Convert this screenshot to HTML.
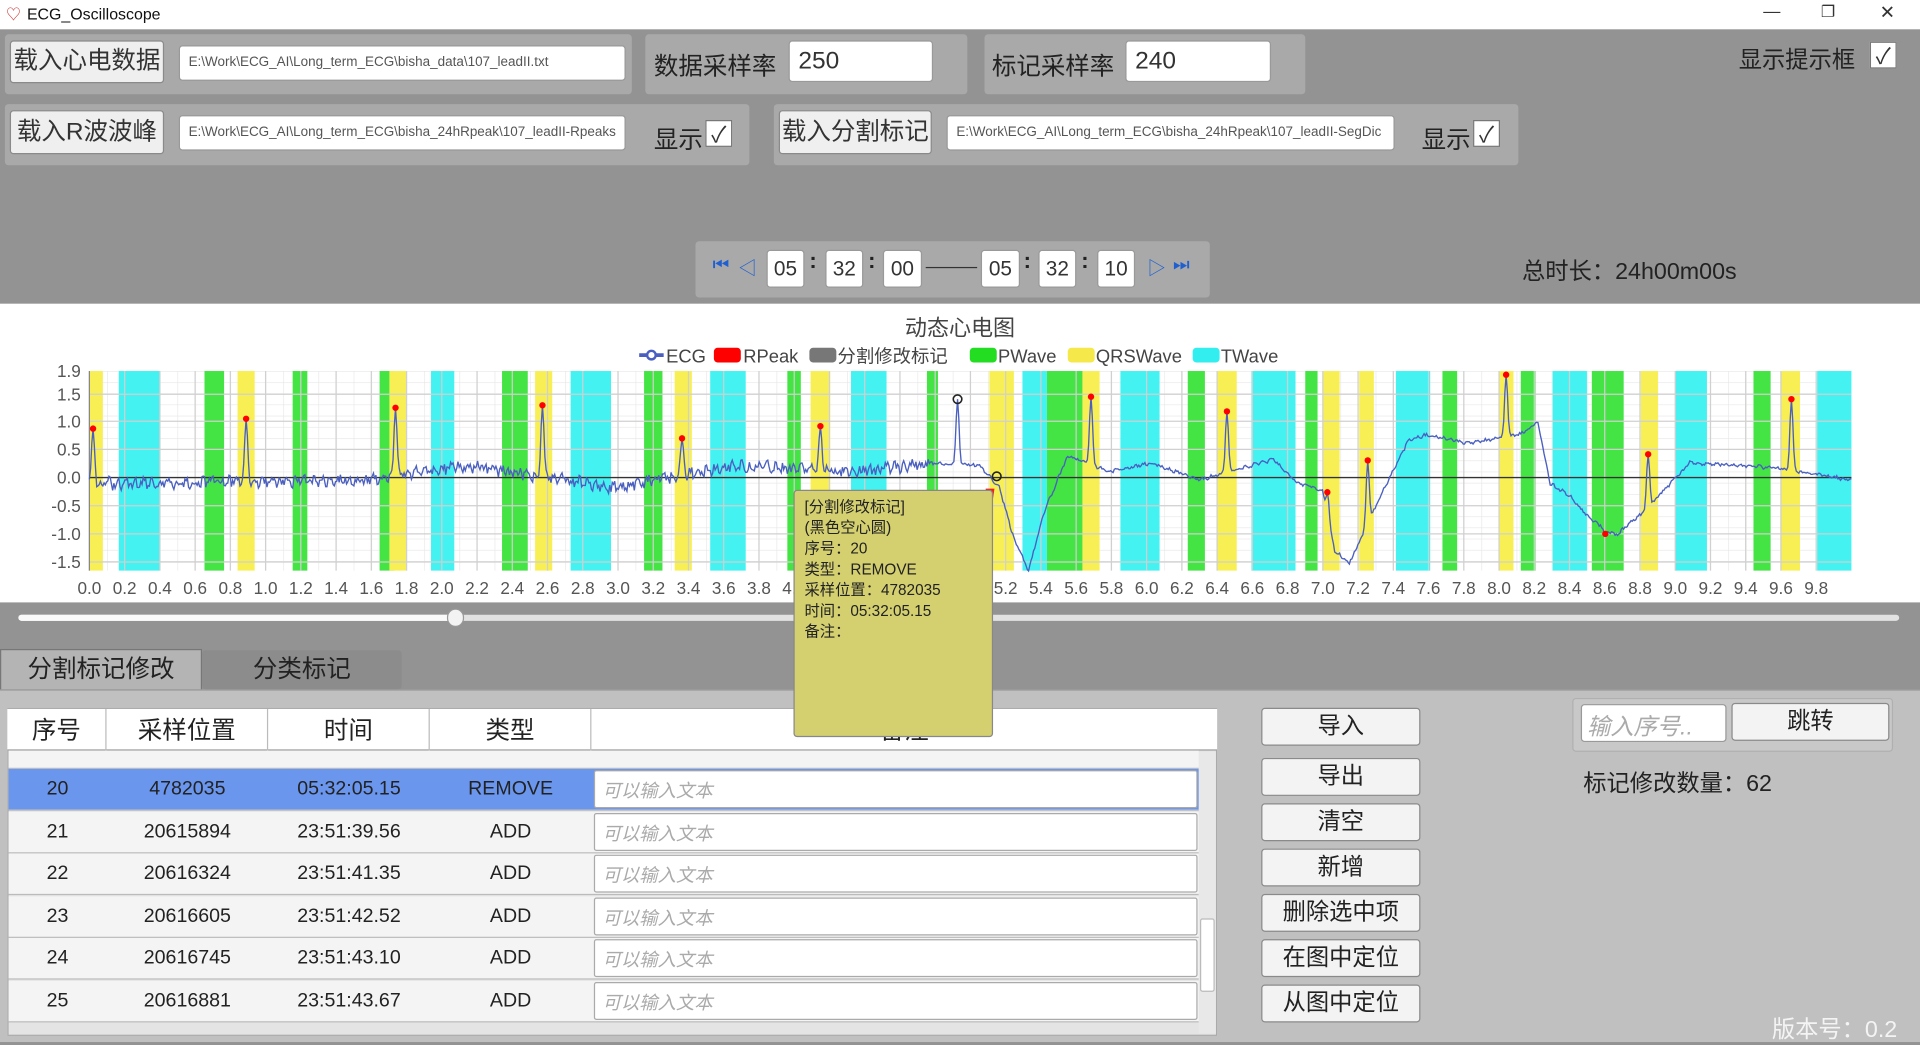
<!DOCTYPE html>
<html><head><meta charset="utf-8">
<style>
html,body{margin:0;padding:0;width:1920px;height:1042px;overflow:hidden;background:#939393;}
#root{position:absolute;left:0;top:0;width:1568px;height:851px;transform:scale(1.22449);transform-origin:0 0;font-family:"Liberation Sans","Noto Sans CJK SC",sans-serif;color:#222;background:#939393;}
.a{position:absolute;box-sizing:border-box;}
.panel{background:#a9a9a9;border-radius:3px;}
.btn{background:#efefef;border:1px solid #8a8a8a;border-radius:3px;text-align:center;font-size:20px;color:#333;}
.inp{background:#fff;border:1px solid #999;border-radius:3px;font-size:11px;color:#555;padding-left:7px;white-space:nowrap;overflow:hidden;}
.lbl{font-size:20px;color:#222;white-space:nowrap;}
.chk{background:#fff;border:1px solid #777;width:22px;height:22px;font-size:18px;text-align:center;line-height:22px;color:#333;}
.tb{background:#fff;border:1px solid #999;border-radius:3px;font-size:17px;text-align:center;color:#333;}
.row{position:absolute;left:7px;width:972px;height:33px;background:#f4f4f4;border-bottom:1px solid #bbb;font-size:16px;color:#222;}
.row span{position:absolute;top:8px;text-align:center;}
.row .n{left:0;width:80px}.row .p{left:80px;width:132px}.row .t{left:212px;width:132px}.row .k{left:344px;width:132px}
.row .r{position:absolute;left:478px;top:1px;width:493px;height:31px;background:#fff;border:1px solid #aaa;border-radius:2px;box-sizing:border-box;font-size:15px;color:#aaa;font-style:italic;padding:5px 6px;}
.rb{background:#f3f3f3;border:1px solid #8a8a8a;border-radius:3px;text-align:center;font-size:19px;line-height:29px;color:#222;width:130px;height:31px;left:1030px;}
</style></head><body><div id="root">
<!-- title bar -->
<div class="a" style="left:0;top:0;width:1568px;height:24px;background:#fff;"></div>
<div class="a" style="left:5px;top:3px;font-size:12px;color:#c33;">♡</div>
<div class="a" style="left:22px;top:4px;font-size:13px;color:#111;">ECG_Oscilloscope</div>
<div class="a" style="left:1440px;top:1px;font-size:14px;color:#333;">—</div>
<div class="a" style="left:1487px;top:2px;font-size:13px;color:#333;">❐</div>
<div class="a" style="left:1535px;top:1px;font-size:15px;color:#333;">✕</div>
<!-- top gray -->
<div class="a" style="left:0;top:24px;width:1568px;height:224px;background:#939393;"></div>
<div class="a panel" style="left:4px;top:28px;width:512px;height:49px;"></div>
<div class="a btn" style="left:8px;top:33px;width:126px;height:35px;line-height:33px;">载入心电数据</div>
<div class="a inp" style="left:146px;top:37px;width:365px;height:29px;line-height:27px;">E:\Work\ECG_AI\Long_term_ECG\bisha_data\107_leadII.txt</div>
<div class="a panel" style="left:527px;top:28px;width:263px;height:49px;"></div>
<div class="a lbl" style="left:534px;top:38px;">数据采样率</div>
<div class="a inp" style="left:644px;top:33px;width:118px;height:34px;font-size:20px;line-height:32px;color:#333;">250</div>
<div class="a panel" style="left:804px;top:28px;width:262px;height:49px;"></div>
<div class="a lbl" style="left:810px;top:38px;">标记采样率</div>
<div class="a inp" style="left:919px;top:33px;width:119px;height:34px;font-size:20px;line-height:32px;color:#333;">240</div>
<div class="a lbl" style="left:1420px;top:34px;font-size:19px;">显示提示框</div>
<div class="a chk" style="left:1527px;top:34px;">✓</div>

<div class="a panel" style="left:4px;top:85px;width:608px;height:50px;"></div>
<div class="a btn" style="left:8px;top:90px;width:126px;height:36px;line-height:34px;">载入R波波峰</div>
<div class="a inp" style="left:146px;top:94px;width:365px;height:29px;line-height:27px;">E:\Work\ECG_AI\Long_term_ECG\bisha_24hRpeak\107_leadII-Rpeaks</div>
<div class="a lbl" style="left:534px;top:98px;">显示</div>
<div class="a chk" style="left:576px;top:98px;">✓</div>
<div class="a panel" style="left:632px;top:85px;width:608px;height:50px;"></div>
<div class="a btn" style="left:636px;top:90px;width:125px;height:36px;line-height:34px;">载入分割标记</div>
<div class="a inp" style="left:773px;top:94px;width:366px;height:29px;line-height:27px;">E:\Work\ECG_AI\Long_term_ECG\bisha_24hRpeak\107_leadII-SegDic</div>
<div class="a lbl" style="left:1161px;top:98px;">显示</div>
<div class="a chk" style="left:1203px;top:98px;">✓</div>

<div class="a panel" style="left:568px;top:197px;width:420px;height:46px;"></div>
<div class="a" style="left:582px;top:208px;font-size:15px;color:#1f5fd0;">⏮</div>
<div class="a" style="left:603px;top:208px;font-size:15px;color:#1f5fd0;">◁</div>
<div class="a tb" style="left:626px;top:204px;width:31px;height:31px;line-height:30px;">05</div>
<div class="a" style="left:661px;top:203px;font-size:18px;font-weight:bold;">:</div>
<div class="a tb" style="left:674px;top:204px;width:31px;height:31px;line-height:30px;">32</div>
<div class="a" style="left:709px;top:203px;font-size:18px;font-weight:bold;">:</div>
<div class="a tb" style="left:721px;top:204px;width:32px;height:31px;line-height:30px;">00</div>
<div class="a" style="left:756px;top:218px;width:42px;height:1px;background:#333;"></div>
<div class="a tb" style="left:801px;top:204px;width:32px;height:31px;line-height:30px;">05</div>
<div class="a" style="left:836px;top:203px;font-size:18px;font-weight:bold;">:</div>
<div class="a tb" style="left:848px;top:204px;width:31px;height:31px;line-height:30px;">32</div>
<div class="a" style="left:883px;top:203px;font-size:18px;font-weight:bold;">:</div>
<div class="a tb" style="left:896px;top:204px;width:31px;height:31px;line-height:30px;">10</div>
<div class="a" style="left:937px;top:208px;font-size:15px;color:#1f5fd0;">▷</div>
<div class="a" style="left:958px;top:208px;font-size:15px;color:#1f5fd0;">⏭</div>
<div class="a lbl" style="left:1243px;top:207px;font-size:19px;">总时长：24h00m00s</div>

<!-- chart -->
<div class="a" style="left:0;top:248px;width:1568px;height:244px;background:#fff;"></div>
<svg class="a" style="left:0;top:248px" width="1568" height="244" viewBox="0 248 1568 244">
<defs>
<pattern id="g" x="73" y="303" width="14.39" height="9.13" patternUnits="userSpaceOnUse"><path d="M0 0H14.39M0 0V9.13" stroke="#e6e6e6" stroke-width="1" fill="none"/></pattern>
</defs>
<rect x="73" y="303" width="1439" height="163" fill="url(#g)"/>
<g id="bands"></g>
<g id="grid" stroke="#d0d0d0" stroke-width="1"></g>
<line x1="73" y1="390" x2="1512" y2="390" stroke="#333" stroke-width="1.2"/>
<line x1="73" y1="303" x2="73" y2="466" stroke="#888"/>
<path id="ecg" fill="none" stroke="#4a5fc0" stroke-width="1.1"/>
<g id="pk"></g>
<circle cx="782" cy="326" r="3.5" fill="none" stroke="#222" stroke-width="1.3"/>
<circle cx="814" cy="389" r="3.5" fill="none" stroke="#222" stroke-width="1.3"/>
<path d="M799 418 L810 402 M805 400 L811 400 L810 407" stroke="#e22" stroke-width="2" fill="none"/>
<g font-size="14" fill="#555" text-anchor="end" font-family="Liberation Sans,sans-serif">
<text x="66" y="308">1.9</text><text x="66" y="327">1.5</text><text x="66" y="349">1.0</text><text x="66" y="372">0.5</text><text x="66" y="395">0.0</text><text x="66" y="418">-0.5</text><text x="66" y="441">-1.0</text><text x="66" y="464">-1.5</text>
</g>
<g id="xl" font-size="14" fill="#555" text-anchor="middle" font-family="Liberation Sans,sans-serif"></g>
<text x="784" y="274" font-size="18" fill="#444" text-anchor="middle" font-family="Liberation Sans,Noto Sans CJK SC,sans-serif">动态心电图</text>
<g font-size="15" fill="#444" font-family="Liberation Sans,Noto Sans CJK SC,sans-serif">
<line x1="522" y1="290" x2="542" y2="290" stroke="#4a5fc0" stroke-width="3"/><circle cx="532" cy="290" r="3.5" fill="#fff" stroke="#4a5fc0" stroke-width="2"/><text x="544" y="296">ECG</text>
<rect x="583" y="284" width="22" height="12" rx="3" fill="#f00"/><text x="607" y="296">RPeak</text>
<rect x="661" y="284" width="22" height="12" rx="3" fill="#777"/><text x="684" y="296">分割修改标记</text>
<rect x="792" y="284" width="22" height="12" rx="3" fill="#22dd22"/><text x="815" y="296">PWave</text>
<rect x="872" y="284" width="22" height="12" rx="3" fill="#f5e84a"/><text x="895" y="296">QRSWave</text>
<rect x="974" y="284" width="22" height="12" rx="3" fill="#33eeee"/><text x="997" y="296">TWave</text>
</g>
</svg>

<!-- slider -->
<div class="a" style="left:0;top:492px;width:1568px;height:71px;background:#939393;"></div>
<div class="a" style="left:15px;top:502px;width:1536px;height:5px;border-radius:3px;background:#e2e2e2;"></div>
<div class="a" style="left:15px;top:502px;width:357px;height:5px;border-radius:3px;background:#fafafa;"></div>
<div class="a" style="left:365px;top:497px;width:14px;height:15px;border-radius:7px;background:#f3f3f3;border:1px solid #999;"></div>
<div class="a" style="left:0;top:530px;width:165px;height:34px;background:#b4b4b4;border:1px solid #777;font-size:20px;text-align:center;line-height:33px;">分割标记修改</div>
<div class="a" style="left:165px;top:531px;width:163px;height:32px;background:#8c8c8c;border-radius:3px;font-size:20px;text-align:center;line-height:32px;">分类标记</div>
<!-- lower panel -->
<div class="a" style="left:0;top:563px;width:1568px;height:288px;background:#c0c0c0;border-top:1px solid #999;"></div>
<div class="a" style="left:6px;top:578px;width:988px;height:268px;background:#e4e4e4;border:1px solid #aaa;"></div>
<div class="a" style="left:6px;top:579px;width:988px;height:34px;background:#fff;border-bottom:1px solid #999;font-size:20px;">
<div class="a" style="left:0;top:0;width:81px;height:34px;border-right:1px solid #bbb;text-align:center;line-height:36px;">序号</div>
<div class="a" style="left:81px;top:0;width:132px;height:34px;border-right:1px solid #bbb;text-align:center;line-height:36px;">采样位置</div>
<div class="a" style="left:213px;top:0;width:132px;height:34px;border-right:1px solid #bbb;text-align:center;line-height:36px;">时间</div>
<div class="a" style="left:345px;top:0;width:132px;height:34px;border-right:1px solid #bbb;text-align:center;line-height:36px;">类型</div>
<div class="a" style="left:477px;top:0;width:511px;height:34px;text-align:center;line-height:36px;">备注</div>
</div>
<div class="row" style="top:613px;height:14px;overflow:hidden;"></div>
<div class="row" style="top:628px;background:#6b96ee;"><span class="n">20</span><span class="p">4782035</span><span class="t">05:32:05.15</span><span class="k">REMOVE</span><div class="r">可以输入文本</div></div>
<div class="row" style="top:663px;"><span class="n">21</span><span class="p">20615894</span><span class="t">23:51:39.56</span><span class="k">ADD</span><div class="r">可以输入文本</div></div>
<div class="row" style="top:697px;"><span class="n">22</span><span class="p">20616324</span><span class="t">23:51:41.35</span><span class="k">ADD</span><div class="r">可以输入文本</div></div>
<div class="row" style="top:732px;"><span class="n">23</span><span class="p">20616605</span><span class="t">23:51:42.52</span><span class="k">ADD</span><div class="r">可以输入文本</div></div>
<div class="row" style="top:766px;"><span class="n">24</span><span class="p">20616745</span><span class="t">23:51:43.10</span><span class="k">ADD</span><div class="r">可以输入文本</div></div>
<div class="row" style="top:801px;"><span class="n">25</span><span class="p">20616881</span><span class="t">23:51:43.67</span><span class="k">ADD</span><div class="r">可以输入文本</div></div>
<div class="a" style="left:979px;top:614px;width:14px;height:230px;background:#e8e8e8;"></div>
<div class="a" style="left:980px;top:750px;width:12px;height:60px;background:#fff;border:1px solid #bbb;border-radius:2px;"></div>

<div class="a rb" style="top:578px;">导入</div>
<div class="a rb" style="top:619px;">导出</div>
<div class="a rb" style="top:656px;">清空</div>
<div class="a rb" style="top:693px;">新增</div>
<div class="a rb" style="top:730px;">删除选中项</div>
<div class="a rb" style="top:767px;">在图中定位</div>
<div class="a rb" style="top:804px;">从图中定位</div>

<div class="a" style="left:1284px;top:570px;width:262px;height:44px;background:#c8c8c8;border:1px solid #b0b0b0;border-radius:3px;"></div>
<div class="a" style="left:1291px;top:575px;width:119px;height:31px;background:#fff;border:1px solid #999;border-radius:3px;font-size:19px;color:#aaa;font-style:italic;padding:3px 4px;">输入序号..</div>
<div class="a rb" style="left:1414px;top:574px;width:129px;height:31px;">跳转</div>
<div class="a" style="left:1293px;top:625px;font-size:19px;color:#222;">标记修改数量：62</div>
<div class="a" style="left:1447px;top:826px;font-size:19px;color:#f4f4f4;">版本号：0.2</div>

<!-- tooltip -->
<div class="a" style="left:648px;top:400px;width:163px;height:202px;background:#d4d070;border:1px solid #888;border-radius:3px;font-size:12.5px;line-height:17px;color:#222;padding:5px 8px;">[分割修改标记]<br>(黑色空心圆)<br>序号：20<br>类型：REMOVE<br>采样位置：4782035<br>时间：05:32:05.15<br>备注：</div>
</div>
<script>
(function(){
var NS="http://www.w3.org/2000/svg";
function el(t,a,p){var e=document.createElementNS(NS,t);for(var k in a)e.setAttribute(k,a[k]);p.appendChild(e);return e;}
var Y="#f8ef55",C="#44f2f2",G="#44e444";
var b=[[73,84,Y],[97,131,C],[167,183,G],[194,208,Y],[239,251,G],[310,322,G],[318,332,Y],[352,371,C],[410,431,G],[437,451,Y],[466,499,C],[526,541,G],[551,565,Y],[580,609,C],[643,654,G],[662,678,Y],[695,724,C],[757,766,G],[808,828,Y],[835,855,C],[855,884,G],[884,898,Y],[915,947,C],[970,984,G],[994,1010,Y],[1022,1058,C],[1066,1076,G],[1080,1094,Y],[1110,1122,Y],[1140,1168,C],[1178,1190,G],[1224,1236,Y],[1242,1254,G],[1268,1296,C],[1300,1312,G],[1312,1326,G],[1340,1354,Y],[1368,1394,C],[1432,1446,G],[1454,1470,Y],[1484,1512,C]];
var bg=document.getElementById("bands");
b.forEach(function(r){el("rect",{x:r[0],y:303,width:r[1]-r[0],height:163,fill:r[2]},bg);});
var gr=document.getElementById("grid"),xl=document.getElementById("xl");
for(var i=0;i<=49;i++){var x=73+i*28.78;el("line",{x1:x,y1:303,x2:x,y2:466},gr);var t=el("text",{x:x,y:485},xl);t.textContent=(i*0.2).toFixed(1);}
[322,344,367,413,436,459].forEach(function(y){el("line",{x1:73,y1:y,x2:1512,y2:y},gr);});
var kp=[[73,395],[300,392],[380,380],[500,398],[600,380],[700,385],[760,378],[800,380],[816,398],[828,440],[840,466],[852,420],[872,372],[905,385],[940,378],[980,392],[1040,375],[1060,395],[1080,400],[1090,450],[1102,460],[1130,400],[1150,360],[1165,355],[1200,362],[1240,355],[1256,345],[1266,395],[1282,405],[1300,425],[1320,437],[1340,420],[1380,378],[1450,382],[1512,392]];
var pk=[[76,350],[201,342],[323,333],[443,331],[557,358],[670,348],[782,326],[891,324],[1002,336],[1084,402],[1117,376],[1230,306],[1311,436],[1346,371],[1463,326]];
function base(x){for(var j=0;j<kp.length-1;j++){if(x>=kp[j][0]&&x<=kp[j+1][0]){var f=(x-kp[j][0])/(kp[j+1][0]-kp[j][0]);return kp[j][1]+f*(kp[j+1][1]-kp[j][1]);}}return 392;}
var d="",s=1;
for(var x=73;x<=1512;x+=1){var y=base(x);var amp=(x<760)?4:1.2;s=(s*9301+49297)%233280;y+=((s/233280)-0.5)*2*amp+Math.sin(x*0.9)*amp*0.5;
pk.forEach(function(p){var dx=x-p[0];if(Math.abs(dx)<6){var w=Math.exp(-dx*dx/3);y=y*(1-w)+p[1]*w;}});
d+=(x==73?"M":"L")+x+" "+y.toFixed(1);}
document.getElementById("ecg").setAttribute("d",d);
var pg=document.getElementById("pk");
pk.forEach(function(p){if(p[0]!=782)el("circle",{cx:p[0],cy:p[1],r:2.6,fill:"#f00"},pg);});
})();
</script>
</body></html>
